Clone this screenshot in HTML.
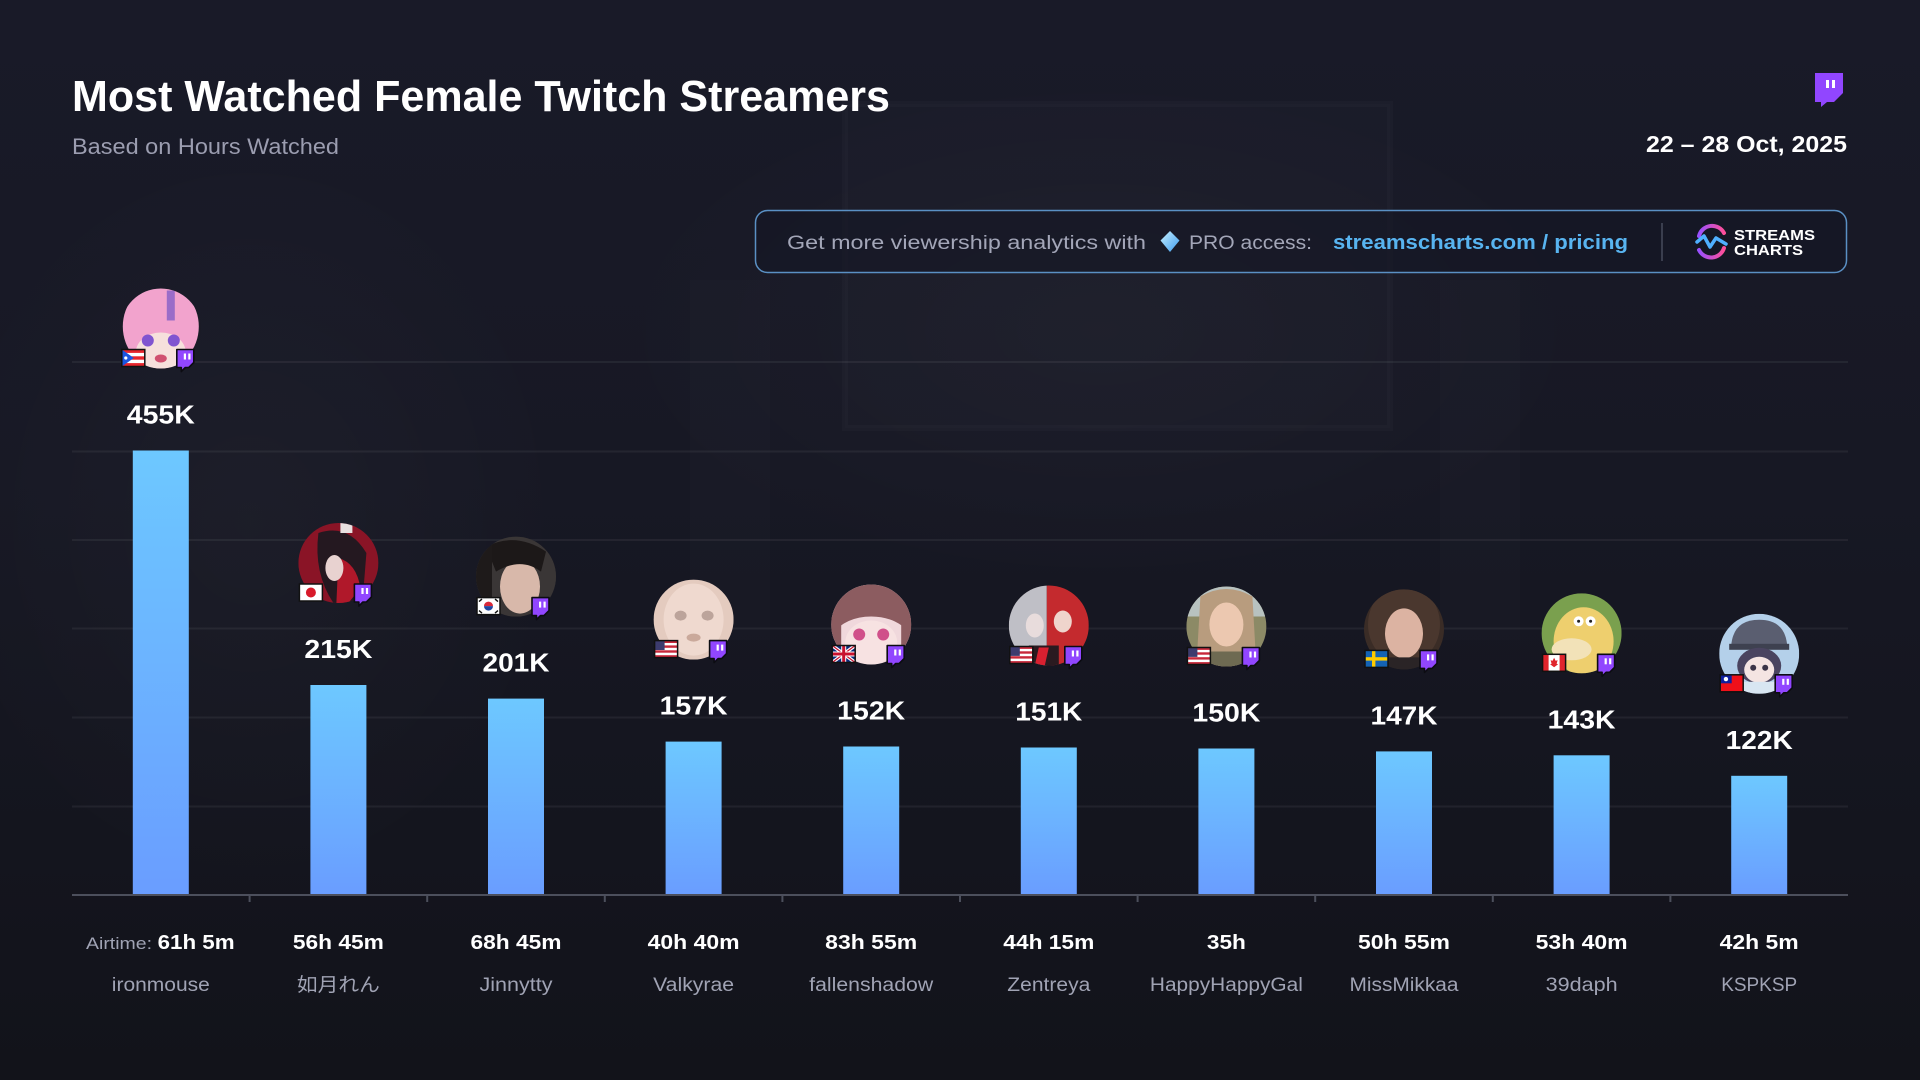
<!DOCTYPE html>
<html><head><meta charset="utf-8"><style>
html,body{margin:0;padding:0;width:1920px;height:1080px;overflow:hidden;background:#15161f}
svg{display:block}
text{font-family:"Liberation Sans","Noto Sans CJK JP",sans-serif}
</style></head><body>
<svg width="1920" height="1080" viewBox="0 0 1920 1080" xmlns="http://www.w3.org/2000/svg">
<defs>
<linearGradient id="bg" x1="0" y1="0" x2="0" y2="1">
<stop offset="0" stop-color="#191a28"/><stop offset="0.45" stop-color="#171824"/><stop offset="1" stop-color="#12131a"/>
</linearGradient>
<linearGradient id="bar" x1="0" y1="0" x2="0" y2="1">
<stop offset="0" stop-color="#6dc8ff"/><stop offset="1" stop-color="#6a9dff"/>
</linearGradient>
<linearGradient id="dia" x1="0" y1="0" x2="1" y2="1">
<stop offset="0" stop-color="#c8f0ff"/><stop offset="1" stop-color="#3c9cf0"/>
</linearGradient>
<linearGradient id="lg1" x1="0" y1="0" x2="1" y2="0">
<stop offset="0" stop-color="#9a50ff"/><stop offset="1" stop-color="#ff4f9a"/>
</linearGradient>
<radialGradient id="glow" cx="0.5" cy="0.5" r="0.5">
<stop offset="0" stop-color="#ffffff" stop-opacity="0.025"/><stop offset="1" stop-color="#ffffff" stop-opacity="0"/>
</radialGradient>
<clipPath id="cc"><circle cx="0" cy="0" r="40"/></clipPath>
<symbol id="f-pr" viewBox="0 0 23 17"><rect width="23" height="17" fill="#fff"/><rect y="0" width="23" height="3.4" fill="#e8242c"/><rect y="6.8" width="23" height="3.4" fill="#e8242c"/><rect y="13.6" width="23" height="3.4" fill="#e8242c"/><polygon points="0,0 12,8.5 0,17" fill="#1a55e0"/><circle cx="4" cy="8.5" r="1.6" fill="#fff"/></symbol>
<symbol id="f-jp" viewBox="0 0 23 17"><rect width="23" height="17" fill="#fff"/><circle cx="11.5" cy="8.5" r="5" fill="#d81a2a"/></symbol>
<symbol id="f-kr" viewBox="0 0 23 17"><rect width="23" height="17" fill="#fff"/><path d="M7,8.5 A4.5,4.5 0 0 1 16,8.5Z" fill="#d8283a"/><path d="M7,8.5 A4.5,4.5 0 0 0 16,8.5Z" fill="#1f46a0"/><g stroke="#111" stroke-width="1.4"><line x1="2" y1="4" x2="5" y2="1.5"/><line x1="18" y1="1.5" x2="21" y2="4"/><line x1="2" y1="13" x2="5" y2="15.5"/><line x1="18" y1="15.5" x2="21" y2="13"/></g></symbol>
<symbol id="f-us" viewBox="0 0 23 17"><rect width="23" height="17" fill="#fff"/><g fill="#c8283a"><rect y="0" width="23" height="2.4"/><rect y="4.8" width="23" height="2.4"/><rect y="9.7" width="23" height="2.4"/><rect y="14.6" width="23" height="2.4"/></g><rect width="10" height="9.4" fill="#3c3b6e"/></symbol>
<symbol id="f-gb" viewBox="0 0 23 17"><rect width="23" height="17" fill="#0a2a7a"/><path d="M0,0 L23,17 M23,0 L0,17" stroke="#fff" stroke-width="3.5"/><path d="M0,0 L23,17 M23,0 L0,17" stroke="#c8102e" stroke-width="1.2"/><path d="M11.5,0 V17 M0,8.5 H23" stroke="#fff" stroke-width="5"/><path d="M11.5,0 V17 M0,8.5 H23" stroke="#c8102e" stroke-width="3"/></symbol>
<symbol id="f-se" viewBox="0 0 23 17"><rect width="23" height="17" fill="#1463b4"/><rect x="7" width="3.4" height="17" fill="#fecc00"/><rect y="6.8" width="23" height="3.4" fill="#fecc00"/></symbol>
<symbol id="f-ca" viewBox="0 0 23 17"><rect width="23" height="17" fill="#fff"/><rect width="6" height="17" fill="#e0242c"/><rect x="17" width="6" height="17" fill="#e0242c"/><polygon points="11.5,3.5 13,6.5 15,6 14,9.5 15.5,10 11.5,13 7.5,10 9,9.5 8,6 10,6.5" fill="#e0242c"/></symbol>
<symbol id="f-tw" viewBox="0 0 23 17"><rect width="23" height="17" fill="#f0101a"/><rect width="11.5" height="8.5" fill="#1020a0"/><circle cx="5.75" cy="4.25" r="2.2" fill="#fff"/></symbol>
<g id="badge"><path d="M1,1 H18 V14 L13,19 H9.5 L5.5,23 V19 H1 Z" fill="#9146ff" stroke="#0c0c12" stroke-width="1.6" stroke-linejoin="round"/><rect x="8" y="5" width="2.2" height="6" fill="#fff"/><rect x="12.5" y="5" width="2.2" height="6" fill="#fff"/></g>
</defs>

<!-- background -->
<rect width="1920" height="1080" fill="url(#bg)"/>
<ellipse cx="250" cy="520" rx="320" ry="380" fill="url(#glow)"/>
<rect x="845" y="104" width="545" height="324" fill="#ffffff" fill-opacity="0.012" stroke="#ffffff" stroke-opacity="0.02" stroke-width="6"/>
<ellipse cx="1100" cy="330" rx="500" ry="260" fill="url(#glow)"/>
<rect x="690" y="280" width="80" height="360" fill="#ffffff" fill-opacity="0.012"/>
<rect x="1440" y="280" width="80" height="360" fill="#ffffff" fill-opacity="0.01"/>

<!-- header -->
<text x="72" y="111" font-size="44" font-weight="700" fill="#ffffff" textLength="818" lengthAdjust="spacingAndGlyphs">Most Watched Female Twitch Streamers</text>
<text x="72" y="154" font-size="22" fill="#9b9db0" textLength="267" lengthAdjust="spacingAndGlyphs">Based on Hours Watched</text>
<text x="1847" y="152" font-size="23" font-weight="700" fill="#ffffff" text-anchor="end" textLength="201" lengthAdjust="spacingAndGlyphs">22 – 28 Oct, 2025</text>
<g transform="translate(1813,73)">
<path d="M2,0 H30 V20 L21,29 H14 L8,34 V29 H2 Z" fill="#9146ff"/>
<path d="M6,4 H26 V18 L19,25 H5.5 Z" fill="#ffffff" fill-opacity="0.0"/>
<rect x="13" y="7" width="3" height="8" fill="#fff"/><rect x="19" y="7" width="3" height="8" fill="#fff"/>
</g>

<!-- banner -->
<rect x="755.5" y="210.5" width="1091" height="62" rx="12" fill="#141624" fill-opacity="0.55" stroke="#5a90c4" stroke-width="1.5"/>
<text x="787" y="249" font-size="19" fill="#a3a6b8" textLength="359" lengthAdjust="spacingAndGlyphs">Get more viewership analytics with</text>
<polygon points="1170,231 1179.5,240.5 1170,252 1160.5,240.5" fill="url(#dia)"/>
<text x="1189" y="249" font-size="19" fill="#a3a6b8" textLength="123" lengthAdjust="spacingAndGlyphs">PRO access:</text>
<text x="1333" y="249" font-size="20" font-weight="700" fill="#58b4f0" textLength="295" lengthAdjust="spacingAndGlyphs">streamscharts.com / pricing</text>
<line x1="1662" y1="223" x2="1662" y2="261" stroke="#3a3e4e" stroke-width="2"/>
<path d="M1699,236 A13.5,13.5 0 0 1 1724,233" fill="none" stroke="url(#lg1)" stroke-width="4" stroke-linecap="round"/>
<path d="M1724,248 A13.5,13.5 0 0 1 1699,250" fill="none" stroke="url(#lg1)" stroke-width="4" stroke-linecap="round"/>
<path d="M1697,242 L1704,236 L1710,247 L1716,238 L1726,244" fill="none" stroke="#4fb0ff" stroke-width="3.5" stroke-linejoin="round" stroke-linecap="round"/>
<text x="1734" y="240" font-size="15" font-weight="700" fill="#ffffff" textLength="81" lengthAdjust="spacingAndGlyphs">STREAMS</text>
<text x="1734" y="255" font-size="15" font-weight="700" fill="#ffffff" textLength="69" lengthAdjust="spacingAndGlyphs">CHARTS</text>

<!-- gridlines -->
<g stroke="#ffffff" stroke-opacity="0.06" stroke-width="2">
<line x1="72" y1="806.5" x2="1848" y2="806.5"/>
<line x1="72" y1="717.5" x2="1848" y2="717.5"/>
<line x1="72" y1="628.5" x2="1848" y2="628.5"/>
<line x1="72" y1="540" x2="1848" y2="540"/>
<line x1="72" y1="451.5" x2="1848" y2="451.5"/>
<line x1="72" y1="362" x2="1848" y2="362"/>
</g>

<!-- bars -->
<g fill="url(#bar)">
<rect x="132.8" y="450.5" width="56" height="444.5"/>
<rect x="310.4" y="685" width="56" height="210"/>
<rect x="488" y="698.6" width="56" height="196.4"/>
<rect x="665.6" y="741.6" width="56" height="153.4"/>
<rect x="843.2" y="746.5" width="56" height="148.5"/>
<rect x="1020.8" y="747.5" width="56" height="147.5"/>
<rect x="1198.4" y="748.5" width="56" height="146.5"/>
<rect x="1376" y="751.4" width="56" height="143.6"/>
<rect x="1553.6" y="755.3" width="56" height="139.7"/>
<rect x="1731.2" y="775.8" width="56" height="119.2"/>
</g>

<!-- axis -->
<line x1="72" y1="895" x2="1848" y2="895" stroke="#4c4f5c" stroke-width="2"/>
<g stroke="#4c4f5c" stroke-width="2">
<line x1="249.6" y1="895" x2="249.6" y2="902"/><line x1="427.2" y1="895" x2="427.2" y2="902"/><line x1="604.8" y1="895" x2="604.8" y2="902"/><line x1="782.4" y1="895" x2="782.4" y2="902"/><line x1="960" y1="895" x2="960" y2="902"/><line x1="1137.6" y1="895" x2="1137.6" y2="902"/><line x1="1315.2" y1="895" x2="1315.2" y2="902"/><line x1="1492.8" y1="895" x2="1492.8" y2="902"/><line x1="1670.4" y1="895" x2="1670.4" y2="902"/>
</g>

<!-- value labels -->
<g font-size="26" font-weight="700" fill="#ffffff" text-anchor="middle">
<text x="160.8" y="423.5" textLength="68" lengthAdjust="spacingAndGlyphs">455K</text>
<text x="338.4" y="658" textLength="68" lengthAdjust="spacingAndGlyphs">215K</text>
<text x="516" y="671.6" textLength="67" lengthAdjust="spacingAndGlyphs">201K</text>
<text x="693.6" y="714.6" textLength="68" lengthAdjust="spacingAndGlyphs">157K</text>
<text x="871.2" y="719.5" textLength="68" lengthAdjust="spacingAndGlyphs">152K</text>
<text x="1048.8" y="720.5" textLength="67" lengthAdjust="spacingAndGlyphs">151K</text>
<text x="1226.4" y="721.5" textLength="68" lengthAdjust="spacingAndGlyphs">150K</text>
<text x="1404" y="724.4" textLength="67" lengthAdjust="spacingAndGlyphs">147K</text>
<text x="1581.6" y="728.3" textLength="68" lengthAdjust="spacingAndGlyphs">143K</text>
<text x="1759.2" y="748.8" textLength="67" lengthAdjust="spacingAndGlyphs">122K</text>
</g>

<!-- avatars -->
<!-- 1 ironmouse -->
<g transform="translate(160.8,328.5)">
<g clip-path="url(#cc)">
<rect x="-40" y="-40" width="80" height="80" fill="#1a1b26"/>
<ellipse cx="0" cy="-2" rx="38" ry="42" fill="#f2a3cd"/>
<rect x="6" y="-38" width="8" height="30" fill="#9a6cc8"/>
<ellipse cx="0" cy="24" rx="25" ry="20" fill="#f6e0dc"/>
<ellipse cx="-13" cy="12" rx="6" ry="6" fill="#8054d0"/>
<ellipse cx="13" cy="12" rx="6" ry="6" fill="#8054d0"/>
<ellipse cx="0" cy="30" rx="6" ry="4" fill="#d05070"/>
</g>
<use href="#f-pr" x="-39" y="21" width="23" height="17"/><rect x="-39" y="21" width="23" height="17" fill="none" stroke="#111" stroke-width="1.5"/>
<use href="#badge" x="15" y="20"/>
</g>
<!-- 2 如月れん -->
<g transform="translate(338.4,563)">
<g clip-path="url(#cc)">
<rect x="-40" y="-40" width="80" height="80" fill="#8a1426"/>
<path d="M-20,-30 Q10,-40 28,-10 L24,40 L-5,40 Q-25,10 -20,-30Z" fill="#241820"/>
<path d="M0,-5 Q18,0 22,25 L10,40 L-2,40Z" fill="#b0182a"/>
<ellipse cx="-4" cy="5" rx="9" ry="13" fill="#e8d2d0"/>
<rect x="2" y="-40" width="12" height="10" fill="#e8e0e0"/>
</g>
<use href="#f-jp" x="-39" y="21" width="23" height="17"/><rect x="-39" y="21" width="23" height="17" fill="none" stroke="#111" stroke-width="1.5"/>
<use href="#badge" x="15" y="20"/>
</g>
<!-- 3 Jinnytty -->
<g transform="translate(516,576.6)">
<g clip-path="url(#cc)">
<rect x="-40" y="-40" width="80" height="80" fill="#2e2b2b"/>
<path d="M-40,-40 H40 V40 H-40Z" fill="#3a3636"/>
<ellipse cx="4" cy="10" rx="20" ry="27" fill="#d8b8aa"/>
<path d="M-30,-30 Q0,-45 30,-25 L25,-5 Q5,-20 -20,-5Z" fill="#1c1818"/>
<rect x="-40" y="-40" width="16" height="80" fill="#1e1a1a"/>
</g>
<use href="#f-kr" x="-39" y="21" width="23" height="17"/><rect x="-39" y="21" width="23" height="17" fill="none" stroke="#111" stroke-width="1.5"/>
<use href="#badge" x="15" y="20"/>
</g>
<!-- 4 Valkyrae -->
<g transform="translate(693.6,619.6)">
<g clip-path="url(#cc)">
<rect x="-40" y="-40" width="80" height="80" fill="#e4cbbf"/>
<ellipse cx="0" cy="0" rx="30" ry="36" fill="#efd9cf"/>
<ellipse cx="-13" cy="-4" rx="6" ry="5" fill="#9a8078" fill-opacity="0.6"/>
<ellipse cx="14" cy="-4" rx="6" ry="5" fill="#9a8078" fill-opacity="0.6"/>
<ellipse cx="0" cy="18" rx="7" ry="4" fill="#b08878" fill-opacity="0.6"/>
</g>
<use href="#f-us" x="-39" y="21" width="23" height="17"/><rect x="-39" y="21" width="23" height="17" fill="none" stroke="#111" stroke-width="1.5"/>
<use href="#badge" x="15" y="20"/>
</g>
<!-- 5 fallenshadow -->
<g transform="translate(871.2,624.5)">
<g clip-path="url(#cc)">
<rect x="-40" y="-40" width="80" height="80" fill="#f0d8dc"/>
<path d="M-40,-40 H40 V10 Q25,-8 0,-8 Q-25,-8 -40,10Z" fill="#8c5c60"/>
<ellipse cx="0" cy="18" rx="26" ry="22" fill="#f7e2e2"/>
<ellipse cx="-12" cy="10" rx="6" ry="6" fill="#d0508a"/>
<ellipse cx="12" cy="10" rx="6" ry="6" fill="#d0508a"/>
<rect x="-40" y="-8" width="10" height="48" fill="#8c5c60"/>
<rect x="30" y="-8" width="10" height="48" fill="#8c5c60"/>
</g>
<use href="#f-gb" x="-39" y="21" width="23" height="17"/><rect x="-39" y="21" width="23" height="17" fill="none" stroke="#111" stroke-width="1.5"/>
<use href="#badge" x="15" y="20"/>
</g>
<!-- 6 Zentreya -->
<g transform="translate(1048.8,625.5)">
<g clip-path="url(#cc)">
<rect x="-40" y="-40" width="80" height="80" fill="#1e1418"/>
<path d="M-40,-40 H-2 V40 H-40Z" fill="#bfbfc6"/>
<path d="M-2,-40 H40 V40 H-2Z" fill="#c42a2e"/>
<ellipse cx="-14" cy="0" rx="9" ry="12" fill="#e8dcdc"/>
<ellipse cx="14" cy="-4" rx="9" ry="11" fill="#efd4cc"/>
<path d="M-20,20 L10,20 L10,40 L-20,40Z" fill="#2a1a20"/>
<path d="M-10,22 L0,22 L-4,40 L-14,40Z" fill="#d82030"/>
</g>
<use href="#f-us" x="-39" y="21" width="23" height="17"/><rect x="-39" y="21" width="23" height="17" fill="none" stroke="#111" stroke-width="1.5"/>
<use href="#badge" x="15" y="20"/>
</g>
<!-- 7 HappyHappyGal -->
<g transform="translate(1226.4,626.5)">
<g clip-path="url(#cc)">
<rect x="-40" y="-40" width="80" height="80" fill="#8c8a66"/>
<rect x="-40" y="-40" width="80" height="30" fill="#b8c2c0"/>
<path d="M-26,-30 Q0,-45 26,-30 L30,40 L-30,40Z" fill="#b89c7e"/>
<ellipse cx="0" cy="-2" rx="17" ry="22" fill="#ecc8b0"/>
<path d="M-20,25 L20,25 L24,40 L-24,40Z" fill="#6e6a52"/>
</g>
<use href="#f-us" x="-39" y="21" width="23" height="17"/><rect x="-39" y="21" width="23" height="17" fill="none" stroke="#111" stroke-width="1.5"/>
<use href="#badge" x="15" y="20"/>
</g>
<!-- 8 MissMikkaa -->
<g transform="translate(1404,629.4)">
<g clip-path="url(#cc)">
<rect x="-40" y="-40" width="80" height="80" fill="#3a2c26"/>
<ellipse cx="0" cy="-5" rx="36" ry="40" fill="#4a372e"/>
<ellipse cx="0" cy="4" rx="19" ry="25" fill="#dcb3a2"/>
<path d="M-20,28 L20,28 L26,40 L-26,40Z" fill="#2a2426"/>
</g>
<use href="#f-se" x="-39" y="21" width="23" height="17"/><rect x="-39" y="21" width="23" height="17" fill="none" stroke="#111" stroke-width="1.5"/>
<use href="#badge" x="15" y="20"/>
</g>
<!-- 9 39daph -->
<g transform="translate(1581.6,633.3)">
<g clip-path="url(#cc)">
<rect x="-40" y="-40" width="80" height="80" fill="#7aa04e"/>
<ellipse cx="2" cy="8" rx="30" ry="34" fill="#eecf6e"/>
<ellipse cx="-10" cy="16" rx="20" ry="11" fill="#f2e2b8"/>
<circle cx="-3" cy="-12" r="5" fill="#fff"/><circle cx="9" cy="-12" r="5" fill="#fff"/>
<circle cx="-3" cy="-12" r="1.5" fill="#222"/><circle cx="9" cy="-12" r="1.5" fill="#222"/>
</g>
<use href="#f-ca" x="-39" y="21" width="23" height="17"/><rect x="-39" y="21" width="23" height="17" fill="none" stroke="#111" stroke-width="1.5"/>
<use href="#badge" x="15" y="20"/>
</g>
<!-- 10 KSPKSP -->
<g transform="translate(1759.2,653.8)">
<g clip-path="url(#cc)">
<rect x="-40" y="-40" width="80" height="80" fill="#b4d0ea"/>
<path d="M-28,-8 Q-26,-34 0,-34 Q26,-34 28,-8Z" fill="#5a5e70"/>
<rect x="-30" y="-10" width="60" height="6" fill="#3e4150"/>
<ellipse cx="0" cy="12" rx="22" ry="18" fill="#4a4460"/>
<ellipse cx="0" cy="16" rx="15" ry="13" fill="#f4e4e2"/>
<circle cx="-6" cy="14" r="3" fill="#3a3448"/><circle cx="6" cy="14" r="3" fill="#3a3448"/>
<rect x="-40" y="28" width="80" height="12" fill="#d8e6f2"/>
</g>
<use href="#f-tw" x="-39" y="21" width="23" height="17"/><rect x="-39" y="21" width="23" height="17" fill="none" stroke="#111" stroke-width="1.5"/>
<use href="#badge" x="15" y="20"/>
</g>

<!-- airtime row -->
<text x="86" y="949" font-size="17" fill="#a0a3b4" textLength="66" lengthAdjust="spacingAndGlyphs">Airtime:</text>
<text x="157.6" y="949" font-size="20" font-weight="700" fill="#ffffff" textLength="77" lengthAdjust="spacingAndGlyphs">61h 5m</text>
<g font-size="20" font-weight="700" fill="#ffffff" text-anchor="middle">
<text x="338.4" y="949" textLength="91" lengthAdjust="spacingAndGlyphs">56h 45m</text>
<text x="516" y="949" textLength="91" lengthAdjust="spacingAndGlyphs">68h 45m</text>
<text x="693.6" y="949" textLength="92" lengthAdjust="spacingAndGlyphs">40h 40m</text>
<text x="871.2" y="949" textLength="92" lengthAdjust="spacingAndGlyphs">83h 55m</text>
<text x="1048.8" y="949" textLength="91" lengthAdjust="spacingAndGlyphs">44h 15m</text>
<text x="1226.4" y="949" textLength="39" lengthAdjust="spacingAndGlyphs">35h</text>
<text x="1404" y="949" textLength="92" lengthAdjust="spacingAndGlyphs">50h 55m</text>
<text x="1581.6" y="949" textLength="92" lengthAdjust="spacingAndGlyphs">53h 40m</text>
<text x="1759.2" y="949" textLength="79" lengthAdjust="spacingAndGlyphs">42h 5m</text>
</g>

<!-- names -->
<g font-size="19" fill="#a0a3b4" text-anchor="middle">
<text x="160.8" y="991" textLength="98" lengthAdjust="spacingAndGlyphs">ironmouse</text>
<text x="338.4" y="991" textLength="83" lengthAdjust="spacingAndGlyphs">如月れん</text>
<text x="516" y="991" textLength="73" lengthAdjust="spacingAndGlyphs">Jinnytty</text>
<text x="693.6" y="991" textLength="81" lengthAdjust="spacingAndGlyphs">Valkyrae</text>
<text x="871.2" y="991" textLength="124" lengthAdjust="spacingAndGlyphs">fallenshadow</text>
<text x="1048.8" y="991" textLength="83" lengthAdjust="spacingAndGlyphs">Zentreya</text>
<text x="1226.4" y="991" textLength="153" lengthAdjust="spacingAndGlyphs">HappyHappyGal</text>
<text x="1404" y="991" textLength="109" lengthAdjust="spacingAndGlyphs">MissMikkaa</text>
<text x="1581.6" y="991" textLength="72" lengthAdjust="spacingAndGlyphs">39daph</text>
<text x="1759.2" y="991" textLength="76" lengthAdjust="spacingAndGlyphs">KSPKSP</text>
</g>
</svg>
</body></html>
